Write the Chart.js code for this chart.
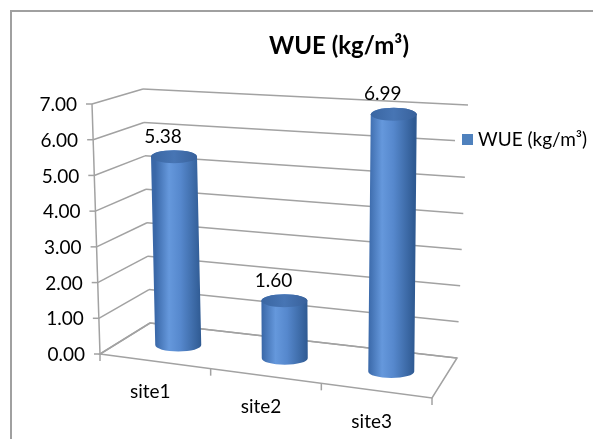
<!DOCTYPE html>
<html>
<head>
<meta charset="utf-8">
<script src="https://cdn.jsdelivr.net/npm/chart.js@4.4.1/dist/chart.umd.min.js"></script>
<style>
  html, body { margin: 0; padding: 0; background: #ffffff; }
  #wrap { position: relative; width: 593px; height: 439px; }
</style>
</head>
<body>
<div id="wrap"><canvas id="chart"></canvas></div>
<script>
// Chart data
const categories = ['site1', 'site2', 'site3'];
const seriesName = 'WUE (kg/m³)';
const wueValues = [5.38, 1.60, 6.99];
const yTickValues = [0, 1, 2, 3, 4, 5, 6, 7];
const chartTitle = 'WUE (kg/m³)';

// Screen corners of the 3D box (u = category axis, v = value axis, w = depth)
const box = {
  flb: [100, 354], flt: [92, 104],
  frb: [432, 398], frt: [430, 130],
  blb: [150, 323], blt: [143, 89],
  brb: [457, 358], brt: [468, 105]
};

function lerp(a, b, t) { return [a[0] + (b[0] - a[0]) * t, a[1] + (b[1] - a[1]) * t]; }

// Trilinear projection of a normalised box point to the canvas
function project(u, v, w) {
  const fb = lerp(box.flb, box.frb, u), ft = lerp(box.flt, box.frt, u);
  const bb = lerp(box.blb, box.brb, u), bt = lerp(box.blt, box.brt, u);
  const front = lerp(fb, ft, v), back = lerp(bb, bt, v);
  return lerp(front, back, w);
}

const FONT = 'Lato, "Open Sans", sans-serif';
const GRID = '#a2a2a2';

function normY(scale, value) {
  return (scale.bottom - scale.getPixelForValue(value)) / (scale.bottom - scale.top);
}
function normX(scale, index) {
  return (scale.getPixelForValue(index) - scale.left) / (scale.right - scale.left);
}

function line(ctx, a, b) {
  ctx.beginPath();
  ctx.moveTo(a[0], a[1]);
  ctx.lineTo(b[0], b[1]);
  ctx.stroke();
}

const cylinderPlugin = {
  id: 'cylinder3d',
  beforeDatasetsDraw(chart) {
    const ctx = chart.ctx;
    const ys = chart.scales.y, xs = chart.scales.x;
    ctx.save();
    ctx.strokeStyle = GRID;
    ctx.lineWidth = 1.5;
    // walls: side wall and back wall gridlines
    yTickValues.forEach(t => {
      const v = normY(ys, t);
      line(ctx, project(0, v, 0), project(0, v, 1));
      line(ctx, project(0, v, 1), project(1, v, 1));
    });
    // floor outline
    ctx.beginPath();
    [[0, 0], [1, 0], [1, 1], [0, 1]].forEach((p, i) => {
      const q = project(p[0], 0, p[1]);
      if (i === 0) ctx.moveTo(q[0], q[1]); else ctx.lineTo(q[0], q[1]);
    });
    ctx.closePath();
    ctx.stroke();
    // value axis
    line(ctx, project(0, 0, 0), project(0, 1, 0));
    // value ticks and labels
    ctx.fillStyle = '#000';
    ctx.font = '19px ' + FONT;
    ctx.textAlign = 'right';
    ctx.textBaseline = 'middle';
    yTickValues.forEach(t => {
      const p = project(0, normY(ys, t), 0);
      line(ctx, [p[0] - 6, p[1]], p);
      ctx.fillText(t.toFixed(2), p[0] - 15, p[1] + 1);
    });
    // category ticks on the front floor edge
    const n = categories.length;
    for (let k = 0; k <= n; k++) {
      const p = project(k / n, 0, 0);
      line(ctx, p, [p[0], p[1] + 7]);
    }
    // category labels
    ctx.textAlign = 'center';
    categories.forEach((c, i) => {
      const p = project(normX(xs, i), 0, 0);
      ctx.fillText(c, p[0] - 5, p[1] + 31);
    });
    ctx.restore();
  },
  afterDatasetsDraw(chart) {
    const ctx = chart.ctx;
    const ys = chart.scales.y, xs = chart.scales.x;
    const meta = chart.getDatasetMeta(0);
    const rx = 23, ry = 6.5;
    ctx.save();
    meta.data.forEach((bar, i) => {
      const value = chart.data.datasets[0].data[i];
      const u = normX(xs, i);
      const b = project(u, 0, 0.5);
      const t = project(u, normY(ys, value), 0.5);
      // body
      const g = ctx.createLinearGradient(b[0] - rx, 0, b[0] + rx, 0);
      g.addColorStop(0, '#3a68a8');
      g.addColorStop(0.3, '#6598dc');
      g.addColorStop(0.55, '#5688cd');
      g.addColorStop(1, '#2f5a92');
      ctx.beginPath();
      ctx.moveTo(t[0] - rx, t[1]);
      ctx.lineTo(b[0] - rx, b[1]);
      ctx.ellipse(b[0], b[1], rx, ry, 0, Math.PI, 0, true);
      ctx.lineTo(t[0] + rx, t[1]);
      ctx.ellipse(t[0], t[1], rx, ry, 0, 0, Math.PI, true);
      ctx.closePath();
      ctx.fillStyle = g;
      ctx.fill();
      // top cap
      const tg = ctx.createLinearGradient(t[0] - rx, 0, t[0] + rx, 0);
      tg.addColorStop(0, '#3a66a2');
      tg.addColorStop(0.5, '#4775b4');
      tg.addColorStop(1, '#38619b');
      ctx.beginPath();
      ctx.ellipse(t[0], t[1], rx, ry, 0, 0, Math.PI * 2);
      ctx.fillStyle = tg;
      ctx.fill();
      // value label
      ctx.fillStyle = '#000';
      ctx.font = '19px ' + FONT;
      ctx.textAlign = 'center';
      ctx.textBaseline = 'middle';
      ctx.fillText(value.toFixed(2), t[0] - 11, t[1] - 20);
    });

    // legend
    ctx.fillStyle = '#ffffff';
    ctx.fillRect(455, 124, 138, 32);
    ctx.fillStyle = '#4f81bd';
    ctx.fillRect(462, 134, 11, 11);
    ctx.fillStyle = '#000';
    ctx.font = '19px ' + FONT;
    ctx.textAlign = 'left';
    ctx.textBaseline = 'middle';
    ctx.fillText(chart.data.datasets[0].label, 478, 140);

    // title
    ctx.font = 'bold 24px ' + FONT;
    ctx.textAlign = 'center';
    ctx.fillText(chartTitle, 339, 46);

    // outer frame
    ctx.strokeStyle = '#a0a0a0';
    ctx.lineWidth = 2;
    ctx.beginPath();
    ctx.moveTo(11, 440);
    ctx.lineTo(11, 11);
    ctx.lineTo(594, 11);
    ctx.stroke();
    ctx.restore();
  }
};

new Chart(document.getElementById('chart'), {
  type: 'bar',
  data: {
    labels: categories,
    datasets: [{
      label: seriesName,
      data: wueValues,
      backgroundColor: 'rgba(0,0,0,0)',
      borderWidth: 0
    }]
  },
  options: {
    responsive: true,
    maintainAspectRatio: false,
    animation: false,
    layout: { padding: 0 },
    plugins: {
      legend: { display: false },
      title: { display: false },
      tooltip: { enabled: false }
    },
    scales: {
      x: { display: false, offset: true },
      y: { display: false, min: 0, max: 7, ticks: { stepSize: 1 } }
    }
  },
  plugins: [cylinderPlugin]
});
</script>
</body>
</html>
